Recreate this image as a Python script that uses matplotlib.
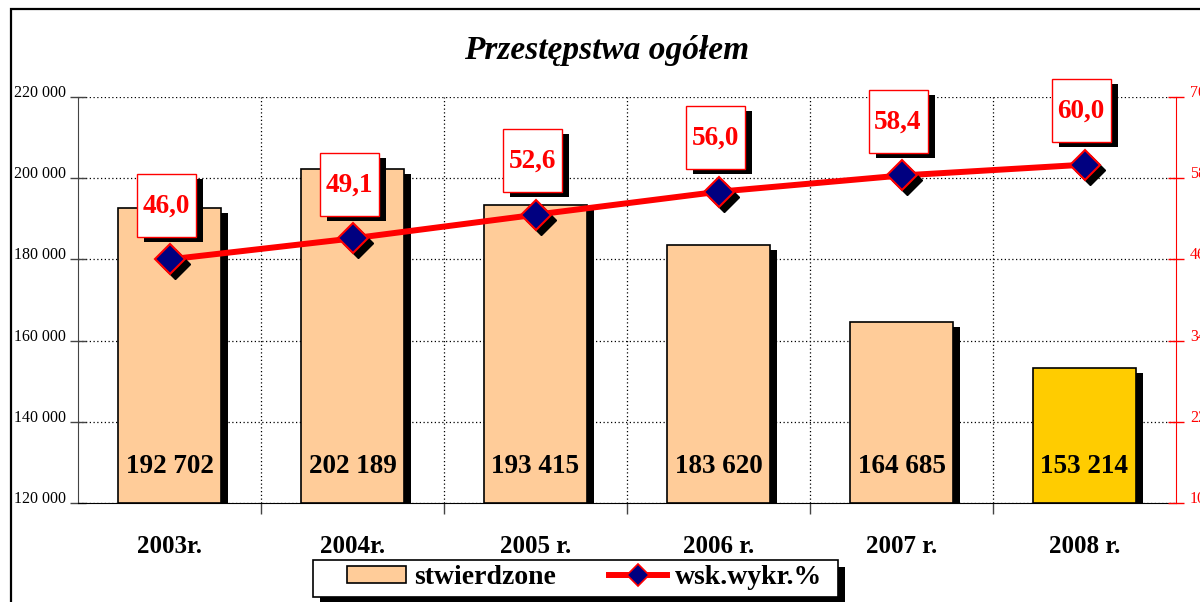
import matplotlib
matplotlib.use("Agg")
import matplotlib.pyplot as plt
import matplotlib.patheffects as pe
from matplotlib.patches import Rectangle
from matplotlib.lines import Line2D
from matplotlib.transforms import ScaledTranslation, offset_copy

# data
years = ["2003r.", "2004r.", "2005 r.", "2006 r.", "2007 r.", "2008 r."]
crimes = [192702, 202189, 193415, 183620, 164685, 153214]
detection_rate = [46.0, 49.1, 52.6, 56.0, 58.4, 60.0]
left_ticks = [120000, 140000, 160000, 180000, 200000, 220000]
right_ticks = [10, 22, 34, 46, 58, 70]

peach = "#FFCC99"
gold = "#FFCC00"
serif = "Liberation Serif"

plt.rcParams["font.family"] = serif

fig = plt.figure(figsize=(12, 6.02), dpi=100)
ax = fig.add_axes([78 / 1200, 1 - 503 / 602, (1176 - 78) / 1200, (503 - 97) / 602])

# outer frame of the picture (only left/top visible)
fig.add_artist(Rectangle((11 / 1200, -0.2), 1.2, 1.2 - 9 / 602, transform=fig.transFigure,
                         fill=False, ec="black", lw=1.6))

x = list(range(len(years)))
colors = [peach] * (len(years) - 1) + [gold]
bars = ax.bar(x, [c - left_ticks[0] for c in crimes], bottom=left_ticks[0], width=0.56,
              color=colors, edgecolor="black", linewidth=1.2, zorder=3)
for b in bars:
    b.set_path_effects([pe.SimplePatchShadow(offset=(5, -3.6), shadow_rgbFace="black", alpha=1),
                        pe.Normal()])

for i, c in enumerate(crimes):
    ax.annotate(f"{c:,}".replace(",", " "), (i, left_ticks[0]), xytext=(0, 26.5),
                textcoords="offset points", ha="center", va="center",
                fontsize=19.5, fontweight="bold", color="black", zorder=4)

ax.set_xlim(-0.5, len(years) - 0.5)
ax.set_ylim(left_ticks[0], left_ticks[-1])
ax.set_yticks(left_ticks)
ax.set_yticklabels([f"{t:,}".replace(",", " ") for t in left_ticks], fontsize=11.5)
for lab in ax.get_yticklabels():
    lab.set_verticalalignment("baseline")
ax.tick_params(axis="y", direction="inout", length=11, width=1, color="#444444", pad=3.5)

ax.set_xticks(x)
ax.set_xticklabels(years, fontsize=18, fontweight="bold")
ax.tick_params(axis="x", which="major", length=0, pad=23)
ax.set_xticks([i + 0.5 for i in x[:-1]], minor=True)
ax.tick_params(axis="x", which="minor", direction="out", length=8, width=1, color="#444444")

ax.grid(axis="y", which="major", color="black", linestyle=(0, (1, 2)), linewidth=0.9, zorder=0)
ax.grid(axis="x", which="minor", color="black", linestyle=(0, (1, 2)), linewidth=0.9, zorder=0)
ax.set_axisbelow(True)

for s in ["top", "right"]:
    ax.spines[s].set_visible(False)
ax.spines["left"].set_color("#444444")
ax.spines["bottom"].set_color("black")

# right axis with the detection rate
ax2 = ax.twinx()
ax2.set_ylim(right_ticks[0], right_ticks[-1])
ax2.set_yticks(right_ticks)
ax2.set_yticklabels([str(t) for t in right_ticks], fontsize=11.5, color="red")
for lab in ax2.get_yticklabels():
    lab.set_verticalalignment("baseline")
ax2.tick_params(axis="y", direction="inout", length=11, width=1, color="red", pad=4.5)
ax2.spines["right"].set_color("red")
for s in ["top", "left", "bottom"]:
    ax2.spines[s].set_visible(False)

ax2.plot(x, detection_rate, color="red", lw=4.3, zorder=4, solid_capstyle="butt")
shadow_tr = offset_copy(ax2.transData, fig=fig, x=5, y=-5, units="dots")
ax2.plot(x, detection_rate, linestyle="none", marker="D", ms=15, color="black",
         transform=shadow_tr, zorder=4.5)
ax2.plot(x, detection_rate, linestyle="none", marker="D", ms=15, markerfacecolor="#000080",
         markeredgecolor="red", markeredgewidth=1.5, zorder=5)

box_shadow = [pe.SimplePatchShadow(offset=(5, -3.6), shadow_rgbFace="black", alpha=1), pe.Normal()]
for i, v in enumerate(detection_rate):
    tr = fig.dpi_scale_trans + ScaledTranslation(i, v, ax2.transData)
    box = Rectangle((-0.325, 0.225), 0.59, 0.63, transform=tr, facecolor="white",
                    edgecolor="red", lw=1, zorder=6, clip_on=False)
    box.set_path_effects(box_shadow)
    ax2.add_artist(box)
    ax2.annotate(f"{v:.1f}".replace(".", ","), (i, v), xytext=(-2.5, 38.5),
                 textcoords="offset points", ha="center", va="center",
                 fontsize=19.5, fontweight="bold", color="red", zorder=7,
                 annotation_clip=False)

fig.text(607 / 1200, 1 - 50 / 602, "Przestępstwa ogółem", ha="center", va="center",
         fontsize=24, fontstyle="italic", fontweight="bold")

# legend frame drawn by hand (wide side margins, tight vertical ones)
frame = Rectangle((313 / 1200, 1 - 597 / 602), 525 / 1200, 37 / 602, transform=fig.transFigure,
                  facecolor="white", edgecolor="black", lw=1.2, zorder=8)
frame.set_path_effects([pe.SimplePatchShadow(offset=(5, -5), shadow_rgbFace="black", alpha=1),
                        pe.Normal()])
fig.add_artist(frame)

handles = [Rectangle((0, 0), 1, 1, facecolor=peach, edgecolor="black", lw=1.2),
           Line2D([], [], color="red", lw=4.3, marker="D", ms=11, markerfacecolor="#000080",
                  markeredgecolor="red", markeredgewidth=1.2)]
leg = fig.legend(handles, ["stwierdzone", "wsk.wykr.%"], ncol=2, loc="center",
                 bbox_to_anchor=(585 / 1200, 1 - 578 / 602), frameon=False,
                 handlelength=2.1, handleheight=0.58, columnspacing=1.9, borderpad=0.1,
                 handletextpad=0.3, prop={"family": serif, "weight": "bold", "size": 20})
leg.set_zorder(9)

fig.savefig("out.png", dpi=100)
